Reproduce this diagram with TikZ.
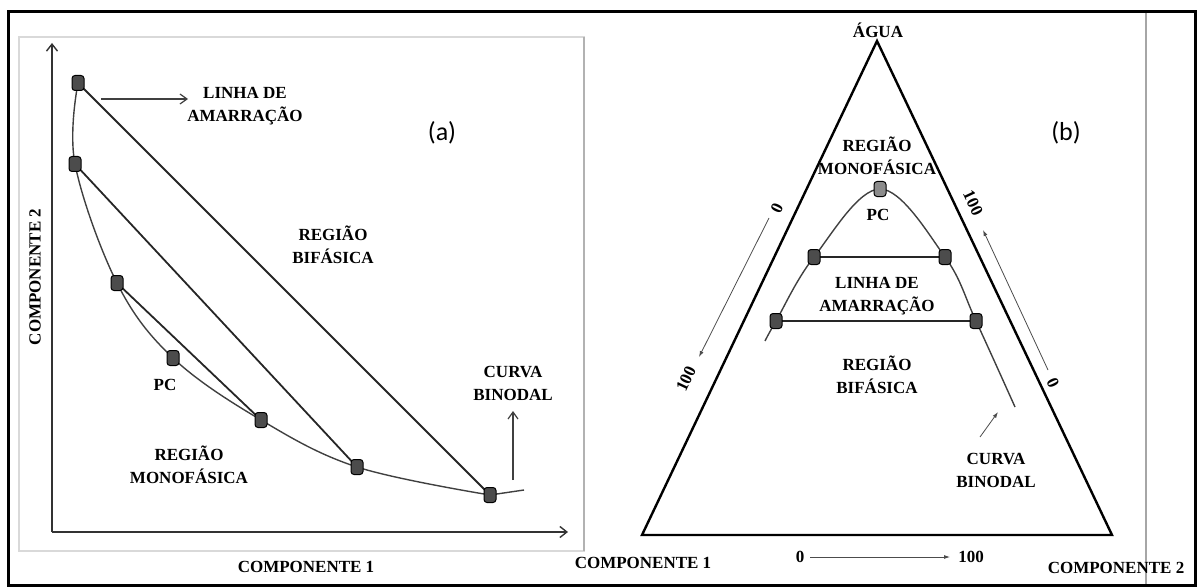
\documentclass[tikz,border=0pt]{standalone}
\usepackage{fontspec}
\setmainfont{Liberation Serif}
\newfontfamily\tagfont{Carlito}
\usetikzlibrary{arrows.meta}

\tikzset{
  lbl/.style={font=\fontsize{17}{23}\selectfont\bfseries, align=center, inner sep=0pt},
  tag/.style={font=\tagfont\fontsize{26}{30}\selectfont, inner sep=0pt},
  dot/.style={draw=black, fill=black!70, rounded corners=3pt, minimum width=12pt,
    minimum height=15pt, inner sep=0pt, line width=1pt},
  pcdot/.style={dot, fill=black!45},
  tie/.style={line width=1.8pt, black!85},
  binodal/.style={line width=1.4pt, black!75},
  axis/.style={-{Straight Barb[length=7pt,width=11pt]}, line width=1.4pt, black!80},
  openarrow/.style={-{Straight Barb[length=7pt,width=10pt]}, line width=1.2pt, black!75},
  thinarrow/.style={-{Latex[length=6pt,width=4pt]}, line width=0.8pt, black!70}
}

\begin{document}
\begin{tikzpicture}[x=1pt,y=-1pt]
\useasboundingbox (0,0) rectangle (1198,588);

% frames
\draw[black!15, line width=1.5pt] (19,37) rectangle (584,551);
\draw[black!30, line width=2pt] (584,37) -- (584,551);
\draw[black!35, line width=2pt] (1146,12) -- (1146,585);
\draw[line width=3pt] (8,12) rectangle (1195,585);

% (a) diagrama retangular
\coordinate (orig) at (52,532);
\coordinate (ytop) at (52,43);
\coordinate (xend) at (568,532);
\draw[axis] (orig) -- (ytop);
\draw[axis] (orig) -- (xend);

\coordinate (a1) at (78,83);
\coordinate (a2) at (75,164);
\coordinate (a3) at (117,283);
\coordinate (apc) at (173,358);
\coordinate (a5) at (261,420);
\coordinate (a6) at (357,467);
\coordinate (a7) at (490,495);
\coordinate (aend) at (524,490);

\draw[binodal] plot[smooth, tension=0.6] coordinates {(a1) (a2) (a3) (apc) (a5) (a6) (a7)} -- (aend);
\draw[tie] (a1) -- (a7);
\draw[tie] (a2) -- (a6);
\draw[tie] (a3) -- (a5);

\foreach \p in {a1,a2,a3,apc,a5,a6,a7}
  \node[dot] at (\p) {};

\coordinate (tiefrom) at (101,99);
\coordinate (tieto) at (188,99);
\draw[openarrow] (tiefrom) -- (tieto);
\node[lbl] (atie) at (245,106) {LINHA DE\\AMARRAÇÃO};

\coordinate (curvefrom) at (513,480);
\coordinate (curveto) at (513,411);
\draw[openarrow] (curvefrom) -- (curveto);
\node[lbl] (acurva) at (513,383) {CURVA\\BINODAL};

\node[tag] (taga) at (442,133) {(a)};
\node[lbl] (abif) at (333,245) {REGIÃO\\BIFÁSICA};
\node[lbl] (apclbl) at (165,385) {PC};
\node[lbl] (amono) at (189,465) {REGIÃO\\MONOFÁSICA};
\node[lbl] (acomp1) at (306,567) {COMPONENTE 1};
\node[lbl, rotate=90] (acomp2) at (35,277) {COMPONENTE 2};

% (b) diagrama triangular
\coordinate (top) at (877,41);
\coordinate (bl) at (642,535);
\coordinate (br) at (1112,535);
\draw[line width=2.4pt] (top) -- (bl) -- (br) -- cycle;

\coordinate (bstart) at (765,341);
\coordinate (b2l) at (776,321);
\coordinate (b1l) at (814,257);
\coordinate (bpc) at (880,189);
\coordinate (b1r) at (945,257);
\coordinate (b2r) at (976,321);
\coordinate (bend) at (1015,407);

\draw[binodal] plot[smooth, tension=0.6] coordinates {(bstart) (b2l) (b1l) (bpc) (b1r) (b2r) (bend)};
\draw[tie] (b1l) -- (b1r);
\draw[tie] (b2l) -- (b2r);

\foreach \p in {b2l,b1l,b1r,b2r}
  \node[dot] at (\p) {};
\node[pcdot] at (bpc) {};

\node[lbl] (agua) at (878,30) {ÁGUA};
\node[tag] (tagb) at (1066,133) {(b)};
\node[lbl] (bmono) at (877,156) {REGIÃO\\MONOFÁSICA};
\node[lbl] (bpclbl) at (878,215) {PC};
\node[lbl] (btie) at (877,296) {LINHA DE\\AMARRAÇÃO};
\node[lbl] (bbif) at (877,375) {REGIÃO\\BIFÁSICA};
\node[lbl] (bcurva) at (996,470) {CURVA\\BINODAL};

\coordinate (bcfrom) at (980,437);
\coordinate (bcto) at (998,412);
\draw[thinarrow] (bcfrom) -- (bcto);

% escalas
\coordinate (lfrom) at (769,218);
\coordinate (lto) at (699,357);
\draw[thinarrow] (lfrom) -- (lto);
\node[lbl, rotate=64.6] (lzero) at (777,208) {0};
\node[lbl, rotate=64.6] (lcem) at (686,379) {100};

\coordinate (rfrom) at (1048,370);
\coordinate (rto) at (983,230);
\draw[thinarrow] (rfrom) -- (rto);
\node[lbl, rotate=-64.6] (rcem) at (973,203) {100};
\node[lbl, rotate=-64.6] (rzero) at (1053,383) {0};

\node[lbl] (bzero) at (800,557) {0};
\node[lbl] (bcem) at (971,557) {100};
\draw[thinarrow] (bzero.east) ++(6,0) coordinate (bfrom) -- (bcem.west -| 950,0);

\node[lbl] (bcomp1) at (643,563) {COMPONENTE 1};
\node[lbl] (bcomp2) at (1116,568) {COMPONENTE 2};
\end{tikzpicture}
\end{document}
